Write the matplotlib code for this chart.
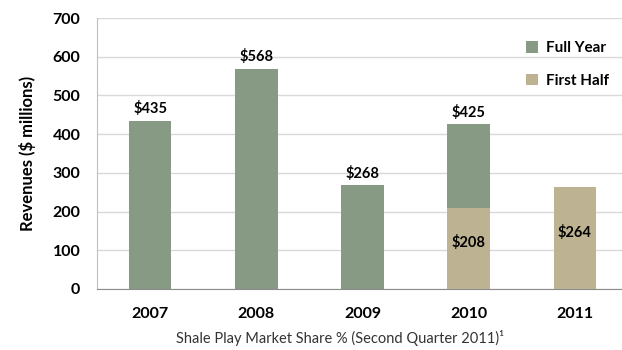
import numpy as np
import matplotlib.pyplot as plt

plt.rcParams['font.family'] = ['Lato', 'DejaVu Sans']

years = ['2007', '2008', '2009', '2010', '2011']
full_year = [435, 568, 268, 425, np.nan]
first_half = [np.nan, np.nan, np.nan, 208, 264]

green = '#879a84'
tan = '#bdb291'

fig = plt.figure(figsize=(6.22, 3.5), dpi=100)
ax = fig.add_axes([97/622, 1 - 289/350, 531/622, 271/350])

xpos = np.arange(len(years))
width = 0.4

p1 = ax.bar(xpos, full_year, width, color=green, zorder=2)
p2 = ax.bar(xpos, first_half, width, color=tan, zorder=3)

# labels above full-year bars
for x, v in zip(xpos, full_year):
    if not np.isnan(v):
        ax.text(x, v + 12, '$%d' % v, ha='center', va='bottom',
                fontsize=10.5, fontweight='bold', color='black')
# labels inside first-half bars
for x, v in zip(xpos, first_half):
    if not np.isnan(v):
        ax.text(x, v / 2 + 15, '$%d' % v, ha='center', va='center',
                fontsize=10.5, fontweight='bold', color='black', zorder=4)

ax.set_xlim(-0.5, len(years) - 0.5)
ax.set_ylim(0, 700)
ax.set_yticks(np.arange(0, 701, 100))
ax.yaxis.grid(True, color='#d9d9d9', linewidth=1, zorder=0)
ax.set_axisbelow(True)

for s in ['top', 'right']:
    ax.spines[s].set_visible(False)
ax.spines['left'].set_color('#bfbfbf')
ax.spines['bottom'].set_color('#8c8c8c')
ax.tick_params(length=0)
ax.tick_params(axis='y', pad=12)
ax.tick_params(axis='x', pad=13)

ax.set_xticks(xpos)
ax.set_xticklabels(years, fontsize=11.5, fontweight='bold')
for lab in ax.get_yticklabels():
    lab.set_fontsize(11.5)
    lab.set_fontweight('bold')

ax.set_ylabel('Revenues ($ millions)', fontsize=12, fontweight='bold', labelpad=12)
ax.set_xlabel('Shale Play Market Share % (Second Quarter 2011)\u00b9',
              fontsize=10.5, color='#333333')
ax.xaxis.set_label_coords((340 - 97) / 531, -41 / 271)

leg = ax.legend((p1[0], p2[0]), ('Full Year', 'First Half'),
                loc='upper right', bbox_to_anchor=(0.99, 0.965),
                frameon=False, fontsize=11, handlelength=0.8, handleheight=0.8,
                labelspacing=1.2, handletextpad=0.5)
for t in leg.get_texts():
    t.set_fontweight('bold')

fig.savefig('out.png', dpi=100)
